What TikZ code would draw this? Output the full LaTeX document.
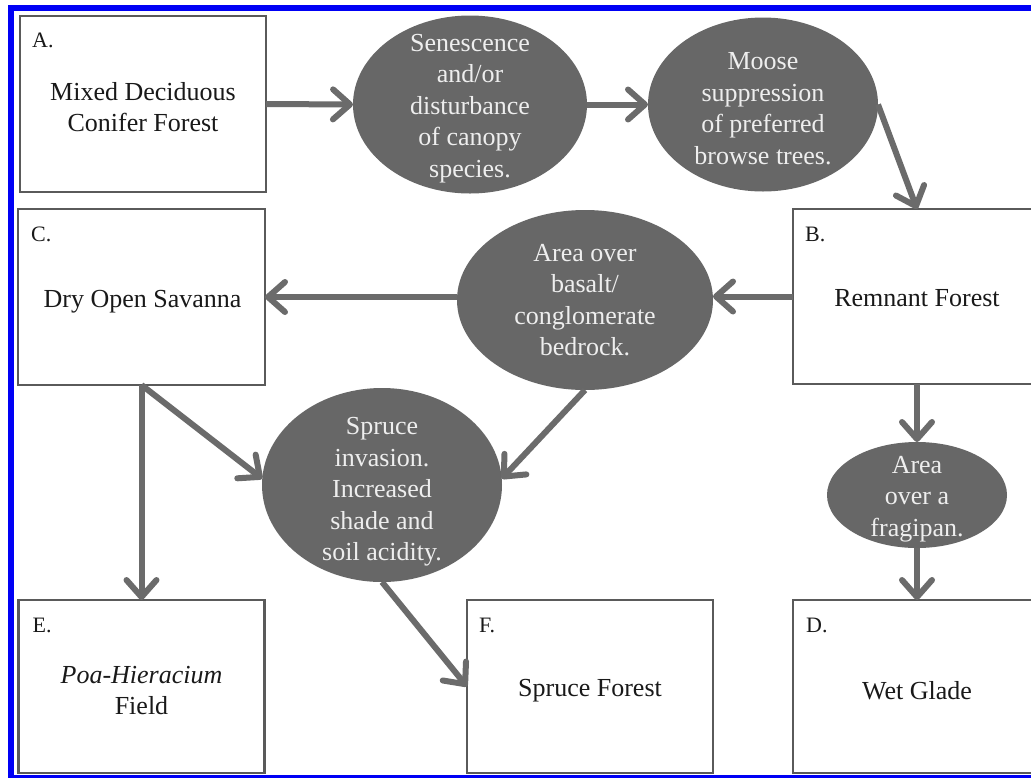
\documentclass[tikz,border=0pt]{standalone}
\usepackage{fontspec}
\setmainfont{Liberation Serif}
\usetikzlibrary{arrows.meta,shapes.geometric,calc}
\definecolor{ellfill}{HTML}{676767}
\definecolor{elltext}{HTML}{EEEEEE}
\definecolor{boxline}{HTML}{5A5A5A}
\definecolor{arrcol}{HTML}{6B6B6B}
\definecolor{frameblue}{HTML}{0000F5}
\begin{document}
\begin{tikzpicture}[x=1pt,y=-1pt,
  stagebox/.style={draw=boxline, line width=2.5pt, fill=white, rectangle, inner sep=0pt, outer sep=0pt},
  stagetext/.style={align=center, inner sep=0pt, text=black!90, font=\fontsize{26}{31.5}\selectfont},
  procell/.style={ellipse, fill=ellfill, draw=none, inner sep=0pt, outer sep=0pt},
  proctext/.style={align=center, inner sep=0pt, text=elltext, font=\fontsize{26}{31.5}\selectfont},
  boxlbl/.style={anchor=base west, inner sep=0pt, text=black!90, font=\fontsize{22}{26}\selectfont},
  arr/.style={draw=arrcol, line width=6pt, -{Straight Barb[length=17pt,width=30pt,round]}}
]
\useasboundingbox (0,0) rectangle (1031,777);
\clip (0,0) rectangle (1031,777);
\fill[white] (0,0) rectangle (1031,777);

% boxes
\node[stagebox, minimum width=246pt, minimum height=176pt] (A) at (143,104) {};
\node[stagebox, minimum width=247pt, minimum height=176pt] (C) at (141.5,297) {};
\node[stagebox, minimum width=248pt, minimum height=175pt] (B) at (917,296.5) {};
\node[stagebox, minimum width=246pt, minimum height=173pt] (E) at (141.5,686.5) {};
\node[stagebox, minimum width=246pt, minimum height=173pt] (F) at (590,686.5) {};
\node[stagebox, minimum width=248pt, minimum height=173pt] (D) at (917,686.5) {};

\node[stagetext] (At) at ($(A.center)+(0,3)$) {Mixed Deciduous\\Conifer Forest};
\node[stagetext] (Ct) at ($(C.center)+(1,5)$) {Dry Open Savanna};
\node[stagetext] (Bt) at ($(B.center)+(0,2)$) {Remnant Forest};
\node[stagetext] (Et) at ($(E.center)+(0,4)$) {\textit{Poa-Hieracium}\\Field};
\node[stagetext] (Ft) at ($(F.center)+(0,4)$) {Spruce Forest};
\node[stagetext] (Dt) at ($(D.center)+(0,4)$) {Wet Glade};

% box letters
\node[boxlbl] (lA) at ($(A.north west)+(12,31)$) {A.};
\node[boxlbl] (lC) at ($(C.north west)+(13,32)$) {C.};
\node[boxlbl] (lB) at ($(B.north west)+(12,32)$) {B.};
\node[boxlbl] (lE) at ($(E.north west)+(14,32)$) {E.};
\node[boxlbl] (lF) at ($(F.north west)+(12,32)$) {F.};
\node[boxlbl] (lD) at ($(D.north west)+(13,32)$) {D.};

% process ellipses
\node[procell, minimum width=234pt, minimum height=178pt] (e1) at (470,104.5) {};
\node[procell, minimum width=230pt, minimum height=174pt] (e2) at (763,104.5) {};
\node[procell, minimum width=256pt, minimum height=180pt] (e3) at (585,300) {};
\node[procell, minimum width=240pt, minimum height=194pt] (e4) at (382,485) {};
\node[procell, minimum width=180pt, minimum height=106pt] (e5) at (917,495) {};

\node[proctext] (t1) at ($(e1.center)+(0,4)$) {Senescence\\and/or\\disturbance\\of canopy\\species.};
\node[proctext] (t2) at ($(e2.center)+(0,4)$) {Moose\\suppression\\of preferred\\browse trees.};
\node[proctext] (t3) at ($(e3.center)+(0,0)$) {Area over\\basalt/\\conglomerate\\bedrock.};
\node[proctext] (t4) at ($(e4.center)+(0,7)$) {Spruce\\invasion.\\Increased\\shade and\\soil acidity.};
\node[proctext] (t5) at ($(e5.center)+(0,4)$) {Area\\over a\\fragipan.};

% connectors
\draw[arr] (A.east) -- (e1.west);
\draw[arr] (e1.east) -- (e2.west);
\draw[arr] (e2.east) -- (B.north);
\draw[arr] (B.west) -- (e3.east |- B.west);
\draw[arr] (e3.west |- C.east) -- (C.east);
\draw[arr] (C.south) -- (e4.177);
\draw[arr] (C.south) -- (E.north);
\draw[arr] (e3.south) -- (e4.3);
\draw[arr] (e4.south) -- (F.west);
\draw[arr] (B.south) -- (e5.north);
\draw[arr] (e5.south) -- (D.north);

% blue frame (cropped on the right)
\draw[frameblue, line width=5.5pt] (10.8,7.8) rectangle (1045,777.5);
\end{tikzpicture}
\end{document}
